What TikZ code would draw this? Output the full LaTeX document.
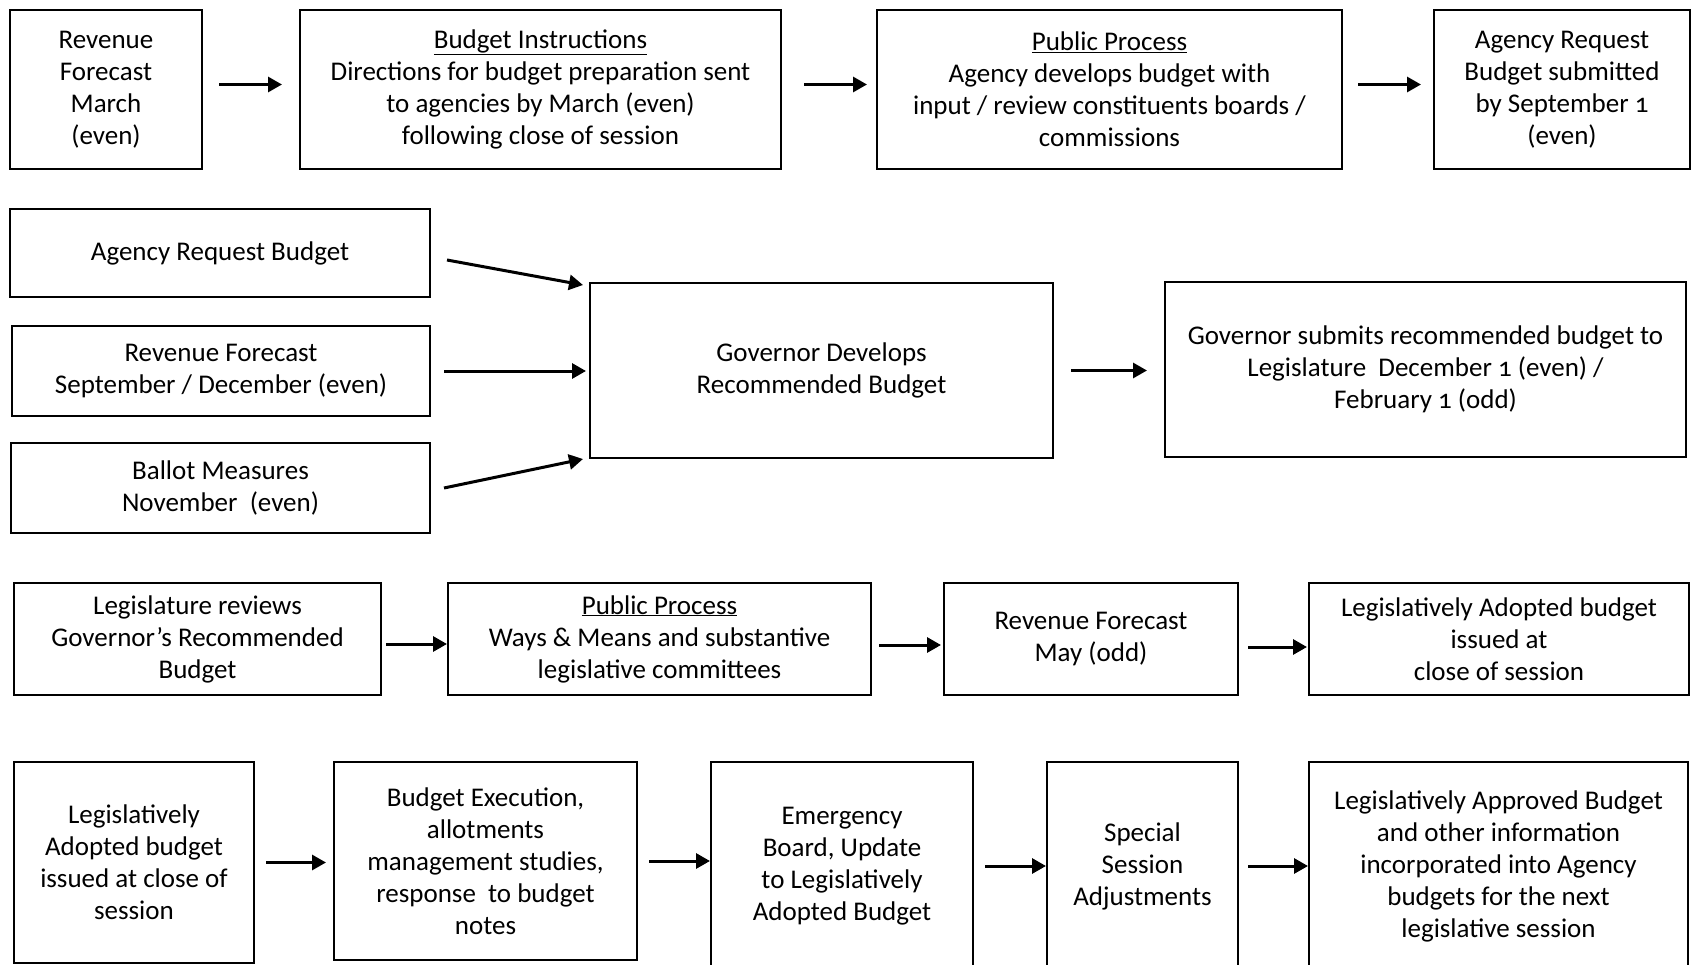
\documentclass[tikz,border=0pt]{standalone}
\usepackage{fontspec}
\setmainfont[Numbers=OldStyle]{Carlito}
\usepackage{tikz}
\usetikzlibrary{arrows.meta,positioning}

\begin{document}
\begin{tikzpicture}[x=1pt,y=-1pt,
    box/.style={draw, line width=2pt, align=center, inner sep=0pt,
        font=\fontsize{27}{32}\selectfont},
    arr/.style={-{Triangle[length=14pt,width=15pt]}, line width=3pt}]
    \useasboundingbox (0,0) rectangle (1694,965);
    \fill[white] (0,0) rectangle (1694,965);
    \clip (0,0) rectangle (1694,965);

    % first row
    \node[box, minimum width=192, minimum height=159] (revmar) at (106,89.5)
        {Revenue\\Forecast\\March\\(even)};
    \node[box, minimum width=481, minimum height=159] (instr) at (540.5,89.5)
        {\underline{Budget Instructions}\\Directions for budget preparation sent\\to agencies by March (even)\\following close of session};
    \node[box, minimum width=465, minimum height=159] (pubproc) at (1109.5,89.5)
        {\underline{Public Process}\\Agency develops budget with\\input / review constituents boards /\\commissions};
    \node[box, minimum width=256, minimum height=159] (agreq) at (1562,89.5)
        {Agency Request\\Budget submitted\\by September 1\\(even)};
    \draw[arr, shorten <=16pt, shorten >=17pt] ([yshift=5pt]revmar.east) -- ([yshift=5pt]instr.west);
    \draw[arr, shorten <=22pt, shorten >=9pt] ([yshift=5pt]instr.east) -- ([yshift=5pt]pubproc.west);
    \draw[arr, shorten <=15pt, shorten >=12pt] ([yshift=5pt]pubproc.east) -- ([yshift=5pt]agreq.west);

    % second row
    \node[box, minimum width=420, minimum height=88] (agbud) at (220,253)
        {Agency Request Budget};
    \node[box, minimum width=418, minimum height=90] (revsep) at (221,371)
        {Revenue Forecast\\September / December (even)};
    \node[box, minimum width=419, minimum height=90] (ballot) at (220.5,488)
        {Ballot Measures\\November\ \ (even)};
    \node[box, minimum width=463, minimum height=175] (govdev) at (821.5,370.5)
        {Governor Develops\\Recommended Budget};
    \node[box, minimum width=521, minimum height=175] (govsub) at (1425.5,369.5)
        {Governor submits recommended budget to\\Legislature\ \ December 1 (even) /\\February 1 (odd)};
    \draw[arr] ([xshift=16pt,yshift=-7pt]agbud.east) -- ([xshift=-6pt,yshift=-3pt]govdev.north west);
    \draw[arr, shorten <=13pt, shorten >=3pt] (revsep.east) -- (revsep.east -| govdev.west);
    \draw[arr] ([xshift=13pt]ballot.east) -- ([xshift=-6pt]govdev.south west);
    \draw[arr, shorten <=17pt, shorten >=17pt] (govdev.east) -- (govdev.east -| govsub.west);

    % third row
    \node[box, minimum width=367, minimum height=112] (legrev) at (197.5,639)
        {Legislature reviews\\Governor’s Recommended\\Budget};
    \node[box, minimum width=423, minimum height=112] (waysmeans) at (659.5,639)
        {\underline{Public Process}\\Ways \& Means and substantive\\legislative committees};
    \node[box, minimum width=294, minimum height=112] (revmay) at (1091,639)
        {Revenue Forecast\\May (odd)};
    \node[box, minimum width=380, minimum height=112] (legadopt) at (1499,639)
        {Legislatively Adopted budget\\issued at\\close of session};
    \draw[arr, shorten <=4pt] ([yshift=-5pt]legrev.east) -- ([yshift=-5pt]waysmeans.west);
    \draw[arr, shorten <=7pt, shorten >=2pt] ([yshift=-6pt]waysmeans.east) -- ([yshift=-6pt]revmay.west);
    \draw[arr, shorten <=9pt, shorten >=1pt] ([yshift=-8pt]revmay.east) -- ([yshift=-8pt]legadopt.west);

    % fourth row
    \node[box, minimum width=240, minimum height=201] (legissued) at (134,862.5)
        {Legislatively\\Adopted budget\\issued at close of\\session};
    \node[box, minimum width=303, minimum height=198] (budexec) at (485.5,861)
        {Budget Execution,\\allotments\\management studies,\\response\ \ to budget\\notes};
    \node[box, minimum width=262, minimum height=208] (emerg) at (842,866)
        {Emergency\\Board, Update\\to Legislatively\\Adopted Budget};
    \node[box, minimum width=191, minimum height=208] (special) at (1142.5,866)
        {Special\\Session\\Adjustments};
    \node[box, minimum width=379, minimum height=208] (legapprov) at (1498.5,866)
        {Legislatively Approved Budget\\and other information\\incorporated into Agency\\budgets for the next\\legislative session};
    \draw[arr, shorten <=11pt, shorten >=7pt] (legissued.east) -- (legissued.east -| budexec.west);
    \draw[arr, shorten <=11pt] (budexec.east) -- (budexec.east -| emerg.west);
    \draw[arr, shorten <=11pt] (emerg.east) -- (emerg.east -| special.west);
    \draw[arr, shorten <=9pt] (special.east) -- (special.east -| legapprov.west);
\end{tikzpicture}
\end{document}
